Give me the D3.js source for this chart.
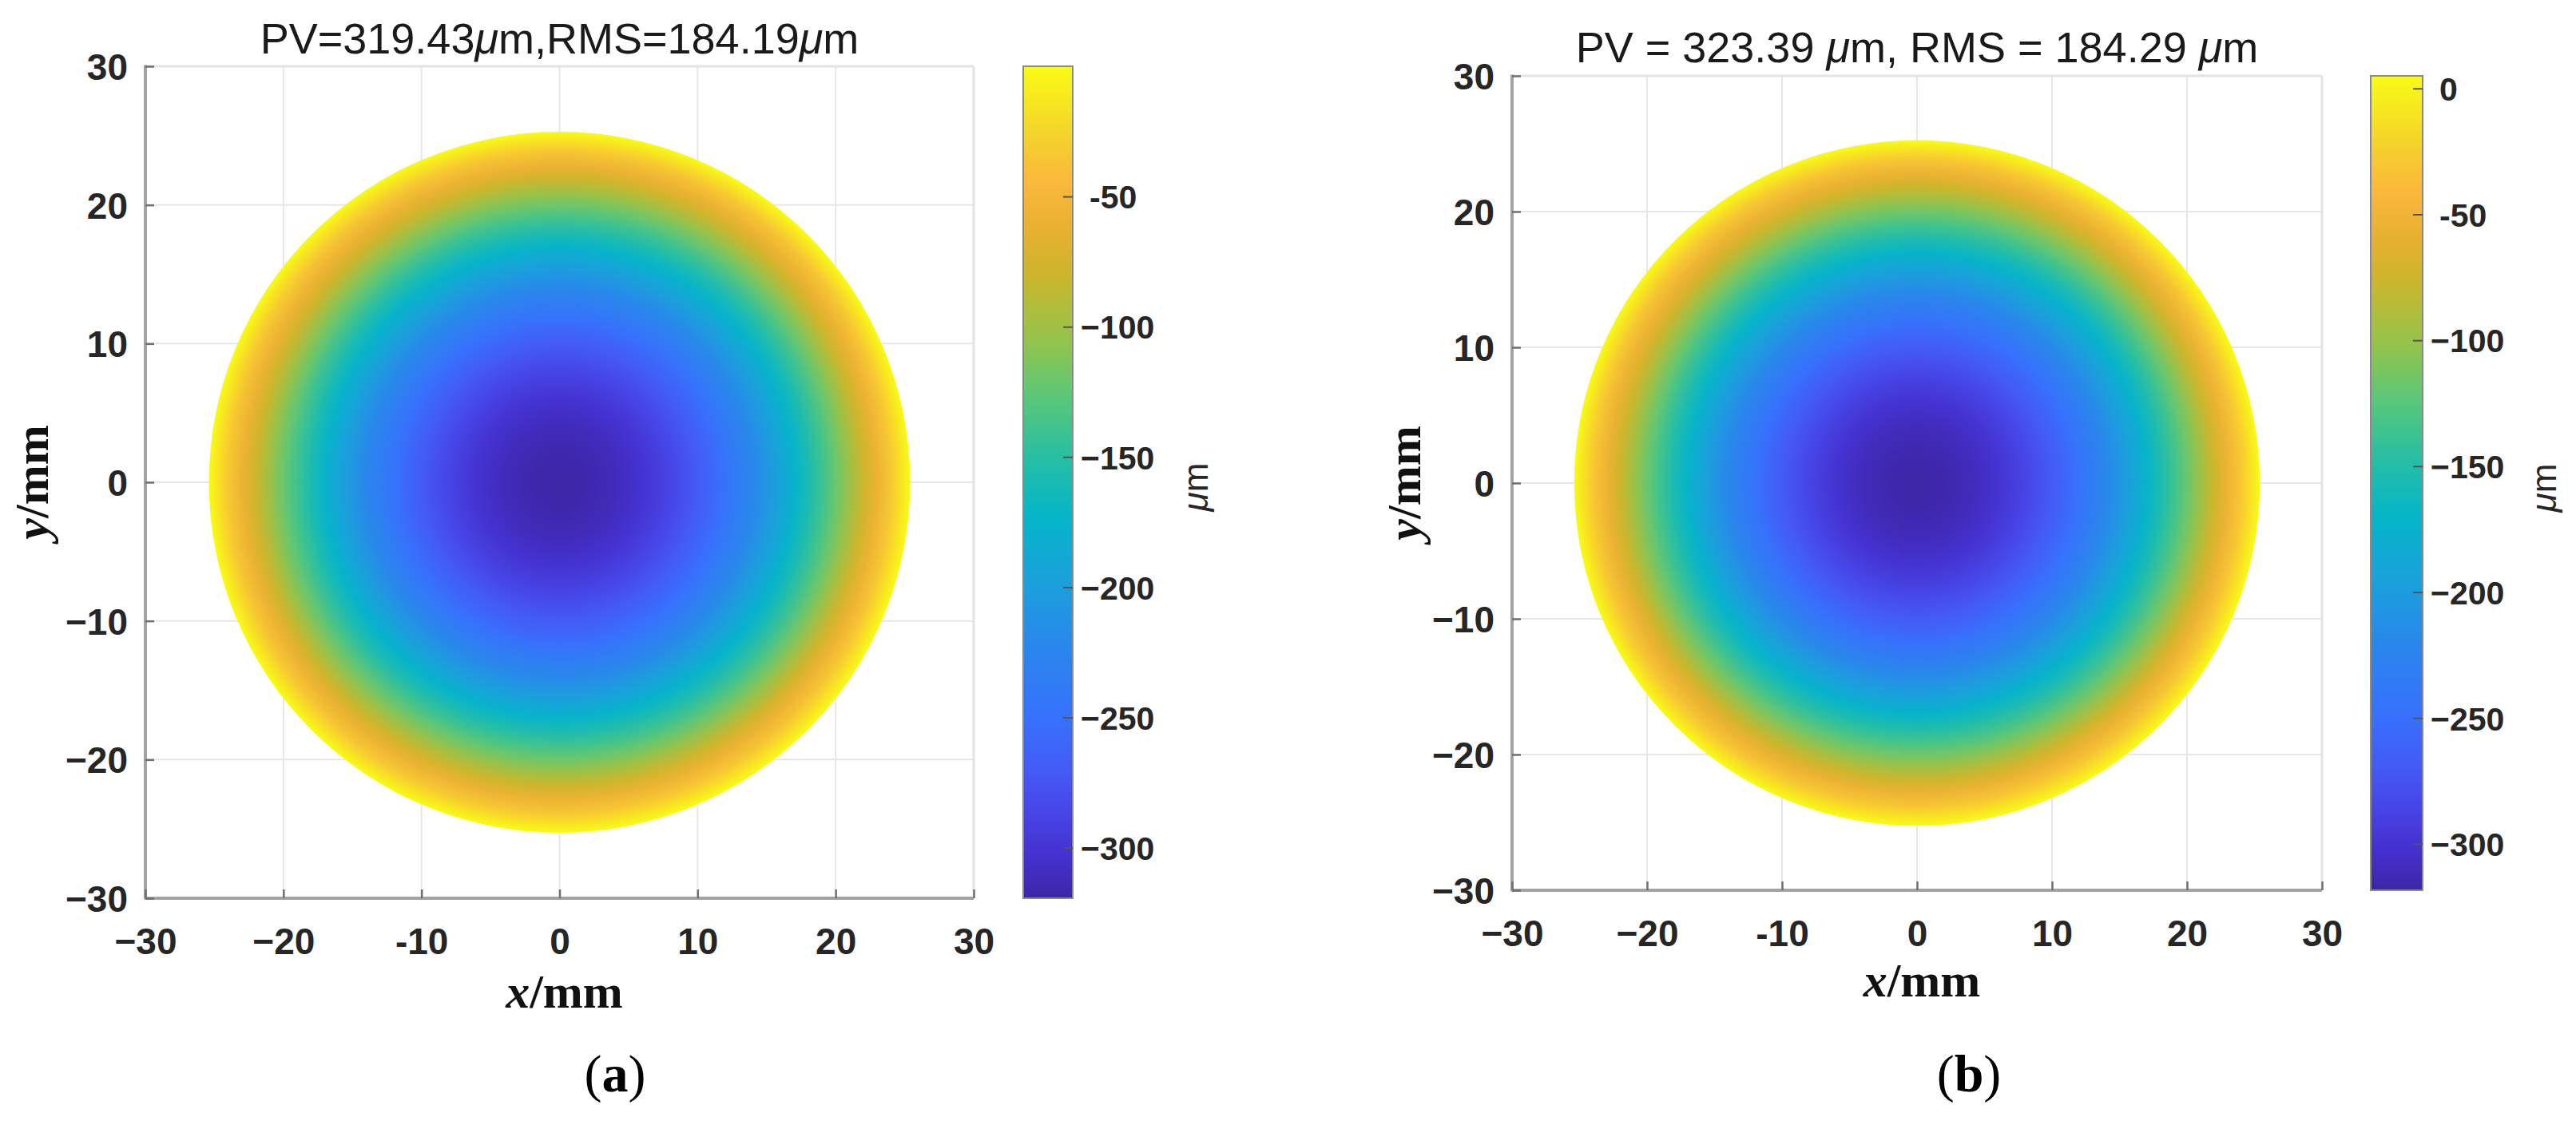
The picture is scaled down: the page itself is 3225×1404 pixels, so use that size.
<!DOCTYPE html>
<html><head><meta charset="utf-8">
<script src="https://cdn.jsdelivr.net/npm/d3@7"></script>
<style>html,body{margin:0;padding:0;background:#fff;overflow:hidden}</style>
</head><body><svg id="c" width="3225" height="1404" xmlns="http://www.w3.org/2000/svg"></svg>
<script>
// ---------- data ----------
const axisTicks = [-30, -20, -10, 0, 10, 20, 30];
const xTickLabels = ["−30", "−20", "-10", "0", "10", "20", "30"];
const yTickLabels = ["−30", "−20", "−10", "0", "10", "20", "30"];
const panelNames = ["a", "b"];
const pvValues = [319.43, 323.39];
const rmsValues = [184.19, 184.29];
const zMin = [-319.43, -318.4];
const zMax = [0, 5.0];
const cbTicksA = [-50, -100, -150, -200, -250, -300];
const cbLabelsA = ["-50", "−100", "−150", "−200", "−250", "−300"];
const cbTicksB = [0, -50, -100, -150, -200, -250, -300];
const cbLabelsB = ["0", "-50", "−100", "−150", "−200", "−250", "−300"];
const apertureRadius = 25.4; // mm
// radial profile read from the maps (radius in mm, surface value in µm)
const profileR = [0, 1, 2, 3, 4, 5, 6, 7, 8, 9, 10, 11, 12, 13, 14, 15, 16, 17, 18, 19, 20, 21, 22, 23, 24, 25, 25.4];
const profileA = [-319.4, -318.9, -317.4, -314.9, -311.5, -307.0, -301.6, -295.1, -287.7, -279.3, -269.9, -259.5, -248.1, -235.7, -222.4, -208.0, -192.7, -176.3, -159.0, -140.7, -121.4, -101.1, -79.8, -57.5, -34.2, -10.0, 0.0];
const profileB = [-318.4, -317.9, -316.4, -313.9, -310.4, -305.9, -300.4, -293.8, -286.3, -277.8, -268.3, -257.7, -246.2, -233.7, -220.2, -205.6, -190.1, -173.5, -155.9, -137.4, -117.9, -97.3, -75.8, -53.2, -29.7, -5.1, 5.0];
// parula colormap anchors
const parulaT = [0.00, 0.05, 0.10, 0.15, 0.22, 0.30, 0.38, 0.46, 0.53, 0.60, 0.67, 0.75, 0.80, 0.86, 0.92, 1.00];
const parulaC = ["#3e26a8", "#4431ce", "#4744e6", "#4559f5", "#3672fd", "#2a86ec", "#1ba0dc", "#04b6c8", "#28bea4", "#58c77a", "#93c44c", "#cdb52c", "#e6b02f", "#fbb83c", "#f4d42a", "#f9fb15"];

// ---------- layout ----------
const layout = [
  {left: 182, right: 1219, top: 83, bottom: 1125, cb0: 1281, cb1: 1343, titleY: 67, cbLabX: 1512, yLabX: 60, xLabY: 1262, capX: 770},
  {left: 1893, right: 2907, top: 95, bottom: 1115, cb0: 2968, cb1: 3033, titleY: 78, cbLabX: 3200, yLabX: 1778, xLabY: 1248, capX: 2465}
];
const profiles = [profileA, profileB];
const cbTicks = [cbTicksA, cbTicksB];
const cbLabels = [cbLabelsA, cbLabelsB];

const svg = d3.select("#c");
const defs = svg.append("defs");
const sans = "'Liberation Sans', Arial, Helvetica, sans-serif";
const serif = "'Liberation Serif', 'Times New Roman', serif";
const parula = d3.scaleLinear().domain(parulaT).range(parulaC).interpolate(d3.interpolateRgb).clamp(true);

panelNames.forEach((name, i) => {
  const L = layout[i];
  const g = svg.append("g");
  const x = d3.scaleLinear().domain([-30, 30]).range([L.left, L.right]);
  const y = d3.scaleLinear().domain([-30, 30]).range([L.bottom, L.top]);
  const tNorm = d3.scaleLinear().domain([zMin[i], zMax[i]]).range([0, 1]);
  const color = v => parula(tNorm(v));

  // grid
  g.append("g").selectAll("line").data(axisTicks).join("line")
    .attr("x1", d => x(d)).attr("x2", d => x(d)).attr("y1", L.top).attr("y2", L.bottom)
    .attr("stroke", "#e6e6e6").attr("stroke-width", 2);
  g.append("g").selectAll("line").data(axisTicks).join("line")
    .attr("y1", d => y(d)).attr("y2", d => y(d)).attr("x1", L.left).attr("x2", L.right)
    .attr("stroke", "#e6e6e6").attr("stroke-width", 2);

  // surface map: radial gradient from the profile
  const rad = x(apertureRadius) - x(0);
  const gid = "rg" + name;
  const rg = defs.append("radialGradient").attr("id", gid)
    .attr("gradientUnits", "userSpaceOnUse")
    .attr("cx", x(0)).attr("cy", y(0)).attr("r", rad)
    .attr("fx", x(0)).attr("fy", y(0));
  rg.selectAll("stop").data(profileR).join("stop")
    .attr("offset", d => d / apertureRadius)
    .attr("stop-color", (d, j) => color(profiles[i][j]));
  g.append("circle").attr("cx", x(0)).attr("cy", y(0)).attr("r", rad)
    .attr("fill", "url(#" + gid + ")");

  // box
  g.append("line").attr("x1", L.left).attr("x2", L.right).attr("y1", L.top).attr("y2", L.top)
    .attr("stroke", "#e3e3e3").attr("stroke-width", 3);
  g.append("line").attr("x1", L.right).attr("x2", L.right).attr("y1", L.top).attr("y2", L.bottom)
    .attr("stroke", "#e3e3e3").attr("stroke-width", 3);
  g.append("line").attr("x1", L.left).attr("x2", L.left).attr("y1", L.top - 1.5).attr("y2", L.bottom + 1.5)
    .attr("stroke", "#a3a3a3").attr("stroke-width", 4);
  g.append("line").attr("x1", L.left).attr("x2", L.right).attr("y1", L.bottom).attr("y2", L.bottom)
    .attr("stroke", "#a3a3a3").attr("stroke-width", 4);

  // axes
  const ya = g.append("g").attr("transform", `translate(${L.left},0)`)
    .call(d3.axisLeft(y).tickValues(axisTicks).tickSize(-11).tickPadding(22)
      .tickFormat(d => yTickLabels[axisTicks.indexOf(d)]));
  const xa = g.append("g").attr("transform", `translate(0,${L.bottom})`)
    .call(d3.axisBottom(x).tickValues(axisTicks).tickSize(-11).tickPadding(37)
      .tickFormat(d => xTickLabels[axisTicks.indexOf(d)]));
  [ya, xa].forEach(a => {
    a.select(".domain").remove();
    a.selectAll(".tick line").attr("stroke", "#6f6f6f").attr("stroke-width", 2.5);
    a.selectAll(".tick text").attr("fill", "#262626").attr("font-family", sans)
      .attr("font-weight", "bold").attr("font-size", 46);
  });
  ya.selectAll(".tick text").attr("dy", "0.36em");
  xa.selectAll(".tick text").attr("dy", "0.71em");

  // title
  const title = i === 0
    ? ["PV=" + pvValues[i], "μ", "m,RMS=" + rmsValues[i], "μ", "m"]
    : ["PV = " + pvValues[i] + " ", "μ", "m, RMS = " + rmsValues[i] + " ", "μ", "m"];
  const tt = g.append("text").attr("x", (L.left + L.right) / 2).attr("y", L.titleY)
    .attr("text-anchor", "middle").attr("font-family", sans).attr("font-size", 54)
    .attr("fill", "#1a1a1a").attr("xml:space", "preserve").style("white-space", "pre");
  title.forEach(s => tt.append("tspan").text(s).attr("font-style", s === "μ" ? "italic" : "normal"));

  // axis labels
  const xl = g.append("text").attr("x", (L.left + L.right) / 2 + 6).attr("y", L.xLabY)
    .attr("text-anchor", "middle").attr("font-family", serif).attr("font-weight", "bold")
    .attr("font-size", 60).attr("fill", "#111");
  xl.append("tspan").text("x").attr("font-style", "italic");
  xl.append("tspan").text("/mm");
  const yl = g.append("text").attr("transform", `translate(${L.yLabX},${(L.top + L.bottom) / 2}) rotate(-90)`)
    .attr("text-anchor", "middle").attr("font-family", serif).attr("font-weight", "bold")
    .attr("font-size", 60).attr("fill", "#111");
  yl.append("tspan").text("y").attr("font-style", "italic");
  yl.append("tspan").text("/mm");

  // colorbar
  const cy = d3.scaleLinear().domain([zMin[i], zMax[i]]).range([L.bottom, L.top]);
  const lid = "lg" + name;
  const lg = defs.append("linearGradient").attr("id", lid)
    .attr("x1", 0).attr("y1", 1).attr("x2", 0).attr("y2", 0);
  lg.selectAll("stop").data(parulaT).join("stop")
    .attr("offset", d => d).attr("stop-color", (d, j) => parulaC[j]);
  g.append("rect").attr("x", L.cb0).attr("y", L.top).attr("width", L.cb1 - L.cb0)
    .attr("height", L.bottom - L.top).attr("fill", "url(#" + lid + ")")
    .attr("stroke", "#8a8a8a").attr("stroke-width", 2);
  const ca = g.append("g").attr("transform", `translate(${L.cb1},0)`)
    .call(d3.axisRight(cy).tickValues(cbTicks[i]).tickSize(-12).tickPadding(10)
      .tickFormat(d => cbLabels[i][cbTicks[i].indexOf(d)]));
  ca.select(".domain").remove();
  ca.selectAll(".tick line").attr("stroke", "#555").attr("stroke-width", 2);
  ca.selectAll(".tick text").attr("fill", "#262626").attr("font-family", sans)
    .attr("font-weight", "bold").attr("font-size", 41).attr("dy", "0.36em")
    .attr("x", function () { return this.textContent.startsWith("−") ? 10 : 21; });
  const cl = g.append("text").attr("transform", `translate(${L.cbLabX},${(L.top + L.bottom) / 2 + 6}) rotate(-90)`)
    .attr("text-anchor", "middle").attr("font-family", sans).attr("font-size", 44).attr("fill", "#262626");
  cl.append("tspan").text("μ").attr("font-style", "italic");
  cl.append("tspan").text("m");

  // caption
  const cap = g.append("text").attr("x", L.capX).attr("y", 1367).attr("text-anchor", "middle")
    .attr("font-family", serif).attr("font-size", 66).attr("fill", "#000");
  cap.append("tspan").text("(");
  cap.append("tspan").text(name).attr("font-weight", "bold");
  cap.append("tspan").text(")");
});
</script></body></html>
